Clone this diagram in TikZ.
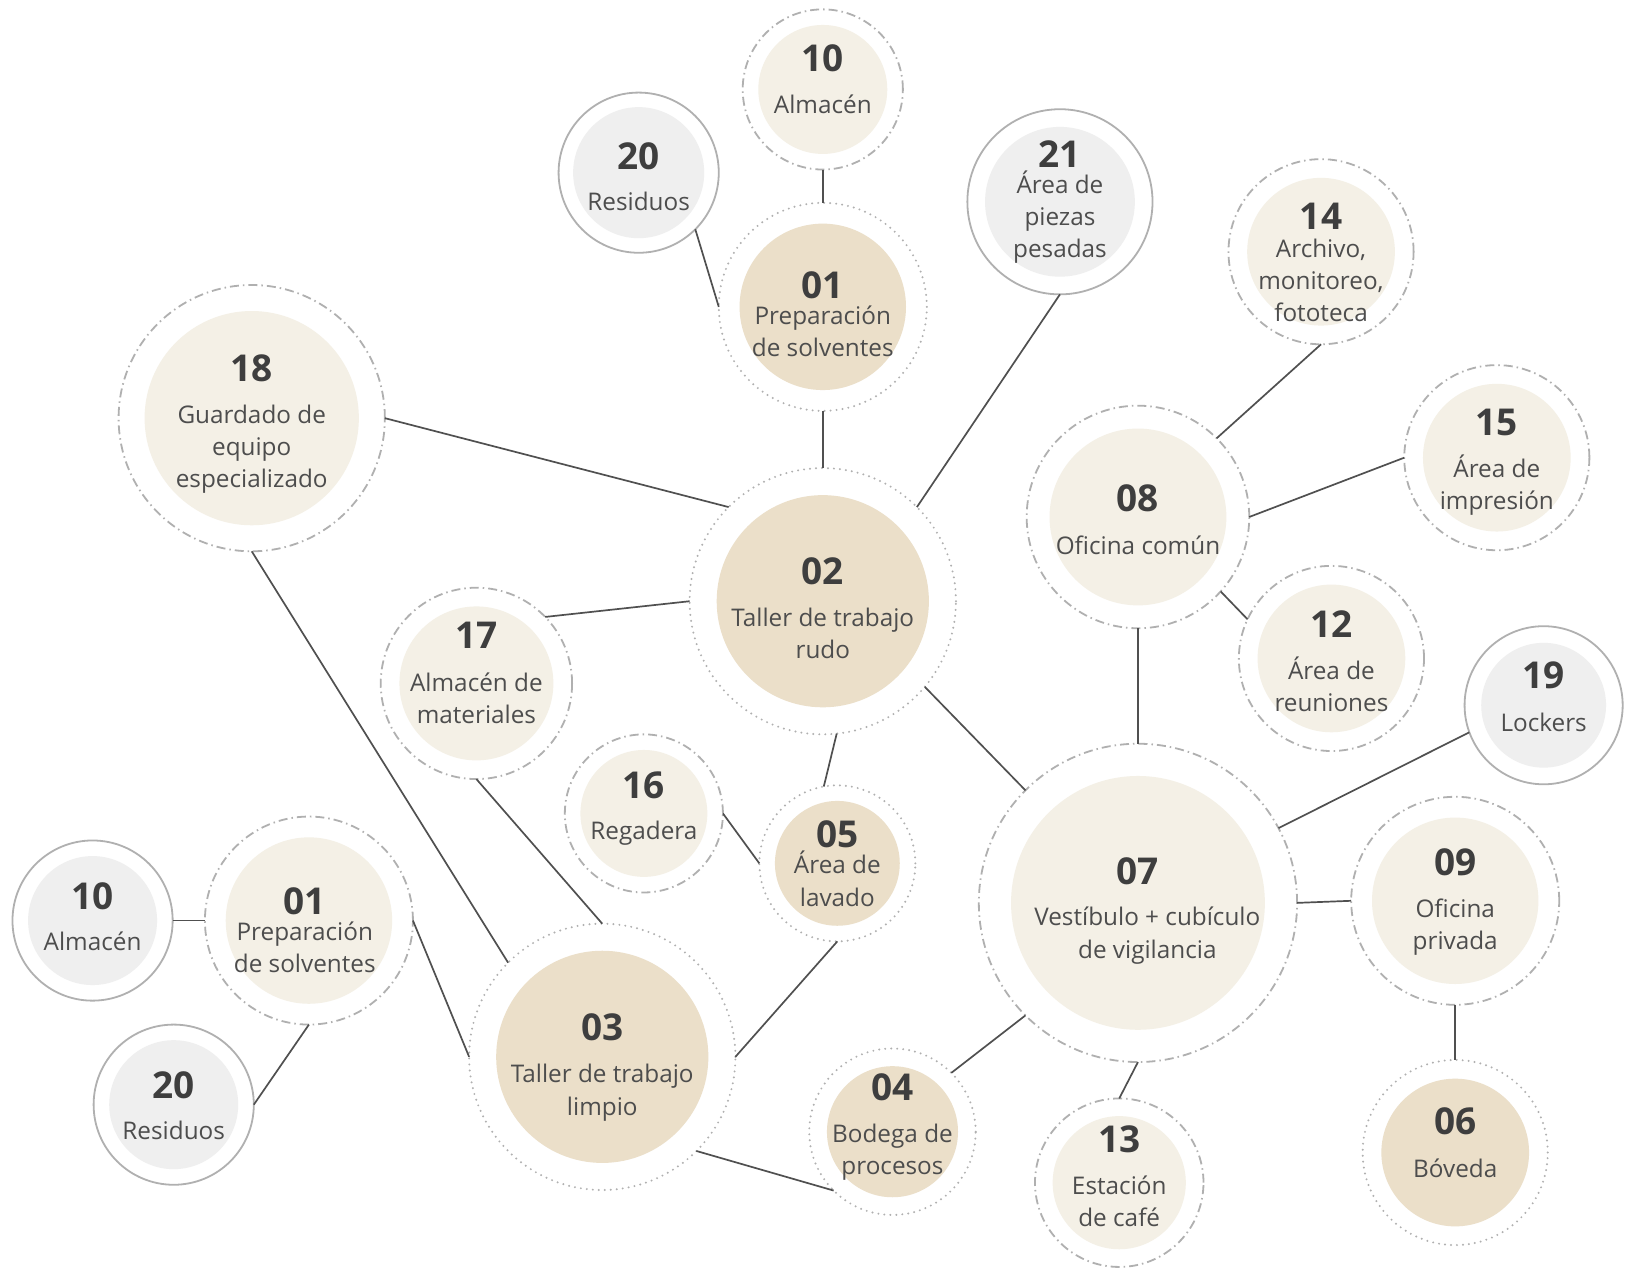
\documentclass[tikz,border=0pt]{standalone}
\usepackage{fontspec}
\setmainfont{Open Sans}
\definecolor{fdark}{HTML}{EBDFC9}
\definecolor{flight}{HTML}{F4F0E6}
\definecolor{fgray}{HTML}{EFEFEF}
\definecolor{ringc}{HTML}{B0B0B0}
\definecolor{linec}{HTML}{505050}
\definecolor{numc}{HTML}{3E3E3E}
\definecolor{labc}{HTML}{4D4D4D}
\tikzset{
  base/.style={circle, inner sep=0pt, outer sep=0pt},
  R/.style={minimum size={#1*2.0804pt}},
  ringdot/.style={base, draw=ringc, line width=2.2pt, line cap=round, dash pattern=on 0pt off 6pt},
  ringdd/.style={base, draw=ringc, line width=1.8pt, dash pattern=on 9pt off 4pt on 1.5pt off 4pt},
  ringsolid/.style={base, draw=ringc, line width=1.8pt},
  discdark/.style={base, fill=fdark},
  disclight/.style={base, fill=flight},
  discgray/.style={base, fill=fgray},
  num/.style={inner sep=0pt, text=numc, font=\fontsize{37}{40}\selectfont\bfseries},
  lab/.style={inner sep=0pt, anchor=base, align=center, text=labc, font=\fontsize{24.3}{32.2}\selectfont},
  conn/.style={draw=linec, line width=1.7pt},
}
\begin{document}
\begin{tikzpicture}[x=1.0402pt, y=-1.0402pt]
\path[use as bounding box, fill=white] (0,0) rectangle (1568,1219);

% top 10
\node[disclight, R=62] (t10f) at (791,86) {};
\node[ringdd, R=77] (t10) at (791,86) {};
\node[num] (t10n) at (791,56) {10};
\node[lab] (t10l) at (791,109) {Almacén};
% top 20
\node[discgray, R=63] (t20f) at (614,166) {};
\node[ringsolid, R=77] (t20) at (614,166) {};
\node[num] (t20n) at (614,150) {20};
\node[lab] (t20l) at (614,202) {Residuos};
% top 01
\node[discdark, R=80] (t01f) at (791,295) {};
\node[ringdot, R=100] (t01) at (791,295) {};
\node[num] (t01n) at (791,274) {01};
\node[lab] (t01l) at (791,343) {Preparación\\de solventes};
% 21
\node[discgray, R=72] (n21f) at (1019,194) {};
\node[ringsolid, R=89] (n21) at (1019,194) {};
\node[num] (n21n) at (1019,148) {21};
\node[lab] (n21l) at (1019,248) {Área de\\piezas\\pesadas};
% 14
\node[disclight, R=71] (n14f) at (1270,242) {};
\node[ringdd, R=89] (n14) at (1270,242) {};
\node[num] (n14n) at (1270,208) {14};
\node[lab] (n14l) at (1270,309) {Archivo,\\monitoreo,\\fototeca};
% 18
\node[disclight, R=103] (n18f) at (242,402) {};
\node[ringdd, R=128] (n18) at (242,402) {};
\node[num] (n18n) at (242,354) {18};
\node[lab] (n18l) at (242,469) {Guardado de\\equipo\\especializado};
% 02
\node[discdark, R=102] (n02f) at (791,578) {};
\node[ringdot, R=128] (n02) at (791,578) {};
\node[num] (n02n) at (791,549) {02};
\node[lab] (n02l) at (791,633) {Taller de trabajo\\rudo};
% 08
\node[disclight, R=85] (n08f) at (1094,497) {};
\node[ringdd, R=107] (n08) at (1094,497) {};
\node[num] (n08n) at (1094,479) {08};
\node[lab] (n08l) at (1094,533) {Oficina común};
% 15
\node[disclight, R=71] (n15f) at (1439,440) {};
\node[ringdd, R=89] (n15) at (1439,440) {};
\node[num] (n15n) at (1439,406) {15};
\node[lab] (n15l) at (1439,490) {Área de\\impresión};
% 17
\node[disclight, R=74] (n17f) at (458,657) {};
\node[ringdd, R=92] (n17) at (458,657) {};
\node[num] (n17n) at (458,611) {17};
\node[lab] (n17l) at (458,696) {Almacén de\\materiales};
% 12
\node[disclight, R=71] (n12f) at (1280,633) {};
\node[ringdd, R=89] (n12) at (1280,633) {};
\node[num] (n12n) at (1280,600) {12};
\node[lab] (n12l) at (1280,684) {Área de\\reuniones};
% 19
\node[discgray, R=60] (n19f) at (1484,678) {};
\node[ringsolid, R=76] (n19) at (1484,678) {};
\node[num] (n19n) at (1484,649) {19};
\node[lab] (n19l) at (1484,703) {Lockers};
% 16
\node[disclight, R=61] (n16f) at (619,782) {};
\node[ringdd, R=76] (n16) at (619,782) {};
\node[num] (n16n) at (619,755) {16};
\node[lab] (n16l) at (619,807) {Regadera};
% 05
\node[discdark, R=60] (n05f) at (805,830) {};
\node[ringdot, R=75] (n05) at (805,830) {};
\node[num] (n05n) at (805,802) {05};
\node[lab] (n05l) at (805,871) {Área de\\lavado};
% 07
\node[disclight, R=122] (n07f) at (1094,868) {};
\node[ringdd, R=153] (n07) at (1094,868) {};
\node[num] (n07n) at (1094,838) {07};
\node[lab] (n07l) at (1103,921) {Vestíbulo + cubículo\\de vigilancia};
% 09
\node[disclight, R=80] (n09f) at (1399,866) {};
\node[ringdd, R=100] (n09) at (1399,866) {};
\node[num] (n09n) at (1399,829) {09};
\node[lab] (n09l) at (1399,913) {Oficina\\privada};
% left 10
\node[discgray, R=62] (l10f) at (89,885) {};
\node[ringsolid, R=77] (l10) at (89,885) {};
\node[num] (l10n) at (89,862) {10};
\node[lab] (l10l) at (89,914) {Almacén};
% left 01
\node[disclight, R=80] (l01f) at (297,885) {};
\node[ringdd, R=100] (l01) at (297,885) {};
\node[num] (l01n) at (293,866) {01};
\node[lab] (l01l) at (293,935) {Preparación\\de solventes};
% left 20
\node[discgray, R=62] (l20f) at (167,1062) {};
\node[ringsolid, R=77] (l20) at (167,1062) {};
\node[num] (l20n) at (167,1043) {20};
\node[lab] (l20l) at (167,1095) {Residuos};
% 03
\node[discdark, R=102] (n03f) at (579,1016) {};
\node[ringdot, R=128] (n03) at (579,1016) {};
\node[num] (n03n) at (579,988) {03};
\node[lab] (n03l) at (579,1072) {Taller de trabajo\\limpio};
% 04
\node[discdark, R=63] (n04f) at (858,1088) {};
\node[ringdot, R=80] (n04) at (858,1088) {};
\node[num] (n04n) at (858,1045) {04};
\node[lab] (n04l) at (858,1129) {Bodega de\\procesos};
% 13
\node[disclight, R=64] (n13f) at (1076,1137) {};
\node[ringdd, R=81] (n13) at (1076,1137) {};
\node[num] (n13n) at (1076,1095) {13};
\node[lab] (n13l) at (1076,1179) {Estación\\de café};
% 06
\node[discdark, R=71] (n06f) at (1399,1108) {};
\node[ringdot, R=89] (n06) at (1399,1108) {};
\node[num] (n06n) at (1399,1078) {06};
\node[lab] (n06l) at (1399,1132) {Bóveda};

% connectors
\draw[conn] (t10.270) -- (t01.90);
\draw[conn] (t20.-45) -- (t01.180);
\draw[conn] (t01.270) -- (n02.90);
\draw[conn] (n21.270) -- (n02.45);
\draw[conn] (n18.0) -- (n02.135);
\draw[conn] (n17.44) -- (n02.180);
\draw[conn] (n18.270) -- (n03.135);
\draw[conn] (n17.270) -- (n03.90);
\draw[conn] (n02.-84) -- (n05.100);
\draw[conn] (n02.-40) -- (n07.135);
\draw[conn] (n16.0) -- (n05.180);
\draw[conn] (n05.270) -- (n03.0);
\draw[conn] (n03.-45) -- (n04.225);
\draw[conn] (n07.225) -- (n04.45);
\draw[conn] (n07.270) -- (n13.90);
\draw[conn] (n08.270) -- (n07.90);
\draw[conn] (n08.45) -- (n14.270);
\draw[conn] (n08.0) -- (n15.180);
\draw[conn] (n08.-42) -- (n12.155);
\draw[conn] (n19.200) -- (n07.28);
\draw[conn] (n07.0) -- (n09.180);
\draw[conn] (n09.270) -- (n06.90);
\draw[conn] (l10.0) -- (l01.180);
\draw[conn] (l20.0) -- (l01.270);
\draw[conn] (l01.0) -- (n03.180);
\end{tikzpicture}
\end{document}
